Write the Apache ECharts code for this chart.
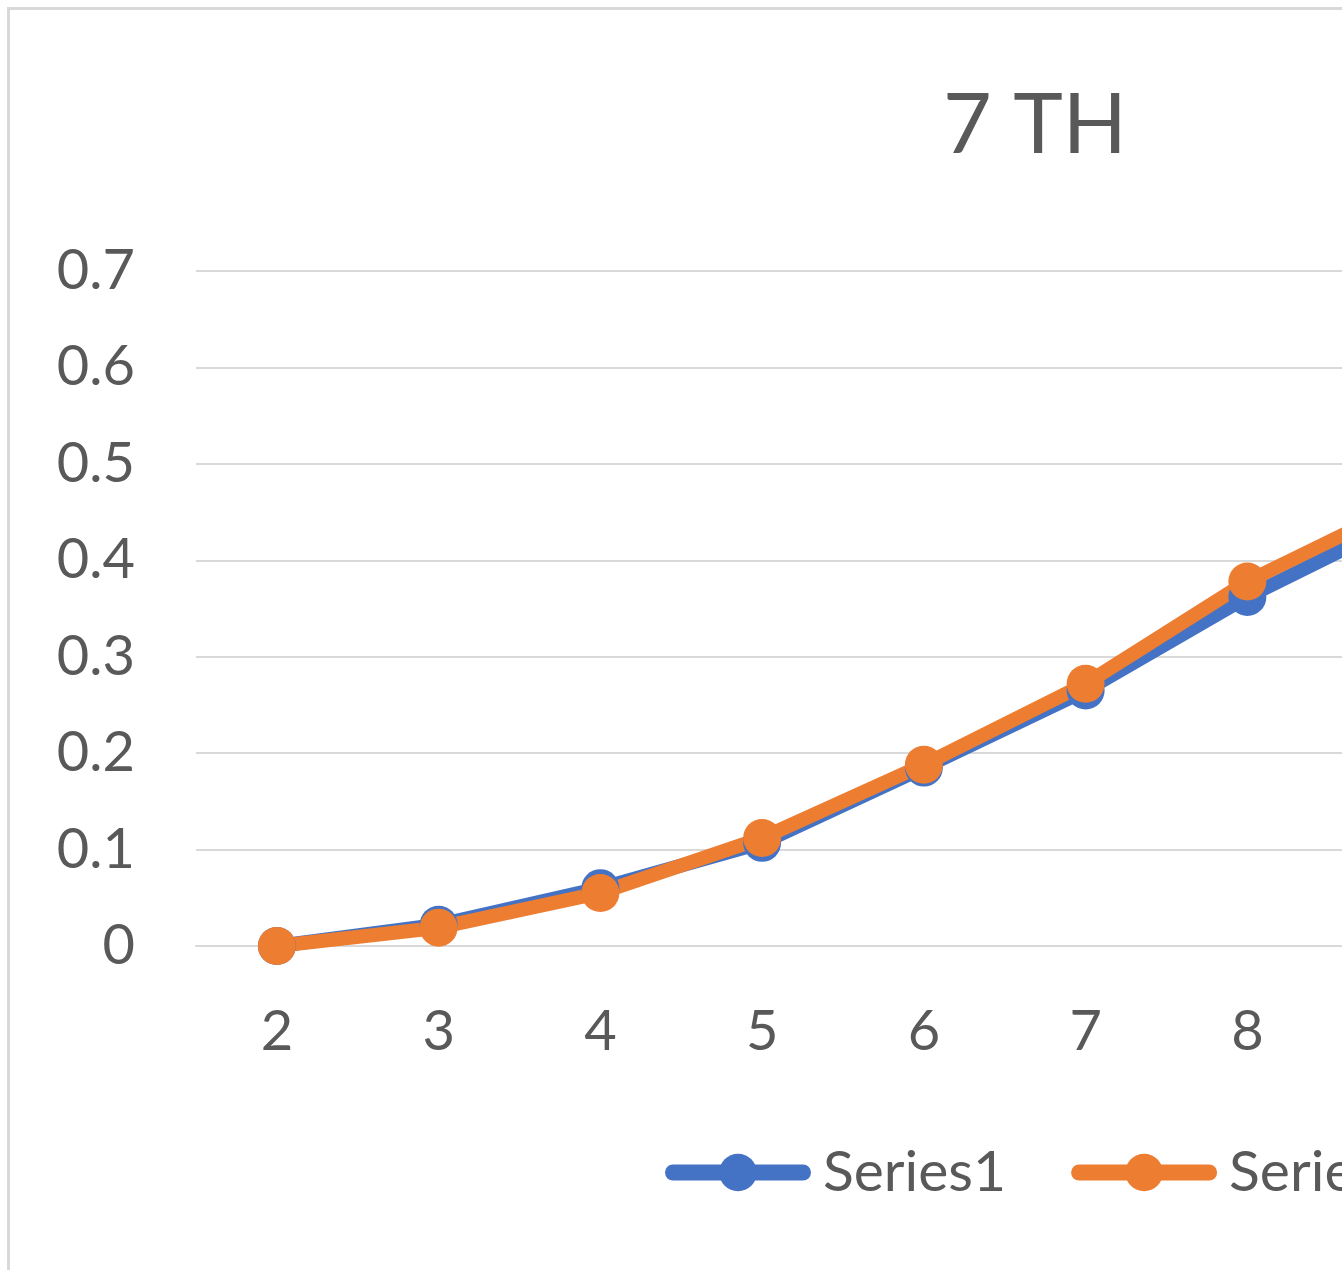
<!DOCTYPE html>
<html>
<head>
<meta charset="utf-8">
<title>7 TH</title>
<script src="https://cdn.jsdelivr.net/npm/echarts@6/dist/echarts.min.js"></script>
<style>
  html, body { margin: 0; padding: 0; overflow: hidden; background: #ffffff; }
  #chart { width: 1600px; height: 1270px; }
</style>
</head>
<body>
<div id="chart"></div>
<script>
// Categories along the x axis
const categories = ['2', '3', '4', '5', '6', '7', '8', '9'];

// Series values
const series1Values = [0.0, 0.022, 0.06, 0.107, 0.185, 0.265, 0.362, 0.445];
const series2Values = [0.0, 0.019, 0.055, 0.112, 0.188, 0.272, 0.378, 0.46];

const seriesNames = ['Series1', 'Series2'];
const seriesColors = ['#4472C4', '#ED7D31'];

// Value axis ticks
const yMin = 0;
const yMax = 0.7;
const yStep = 0.1;

const FONT = 'Lato, "Noto Sans", sans-serif';
const TEXT_COLOR = '#595959';
const GRID_COLOR = '#d9d9d9';

const chart = echarts.init(document.getElementById('chart'), null, { renderer: 'canvas' });

function lineSeries(name, values, color) {
  return {
    name: name,
    type: 'line',
    data: values,
    symbol: 'circle',
    symbolSize: 38,
    showSymbol: true,
    lineStyle: { color: color, width: 14, cap: 'round', join: 'round' },
    itemStyle: { color: color, borderWidth: 0 },
    emphasis: { disabled: true },
    animation: false
  };
}

chart.setOption({
  animation: false,
  backgroundColor: '#ffffff',
  graphic: [{
    type: 'rect',
    z: -10,
    silent: true,
    shape: { x: 8.5, y: 8.5, width: 3000, height: 3000 },
    style: { fill: 'none', stroke: GRID_COLOR, lineWidth: 3 }
  }],
  title: {
    text: '7 TH',
    left: 938,
    top: 79,
    textStyle: { fontFamily: FONT, fontSize: 84, fontWeight: 'normal', color: TEXT_COLOR }
  },
  legend: {
    data: seriesNames,
    left: 660,
    top: 1139,
    itemWidth: 130,
    itemHeight: 47,
    itemGap: 65,
    lineStyle: { width: 16, cap: 'round' },
    textStyle: {
      fontFamily: FONT, fontSize: 57, color: TEXT_COLOR,
      padding: [0, 0, 0, 15]
    }
  },
  grid: {
    left: 196,
    right: 110,
    top: 271,
    bottom: 324,
    containLabel: false
  },
  xAxis: {
    type: 'category',
    data: categories,
    boundaryGap: true,
    axisLine: { show: true, lineStyle: { color: GRID_COLOR, width: 2 } },
    axisTick: { show: false },
    axisLabel: {
      margin: 58,
      fontFamily: FONT, fontSize: 56, color: TEXT_COLOR
    },
    splitLine: { show: false }
  },
  yAxis: {
    type: 'value',
    min: yMin,
    max: yMax,
    interval: yStep,
    axisLine: { show: false },
    axisTick: { show: false },
    axisLabel: {
      margin: 61,
      fontFamily: FONT, fontSize: 56, color: TEXT_COLOR,
      formatter: function (v) { return String(Math.round(v * 10) / 10); }
    },
    splitLine: { show: true, lineStyle: { color: GRID_COLOR, width: 2 } }
  },
  series: [
    lineSeries(seriesNames[0], series1Values, seriesColors[0]),
    lineSeries(seriesNames[1], series2Values, seriesColors[1])
  ]
});
</script>
</body>
</html>
